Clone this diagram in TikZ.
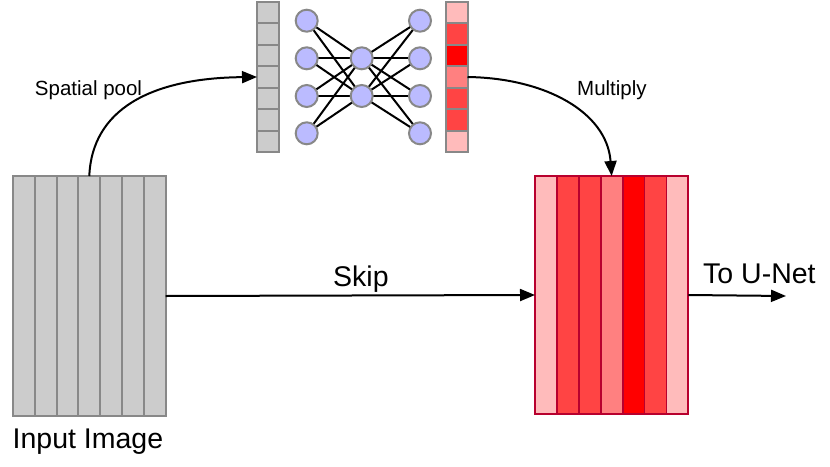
\documentclass[tikz,border=0pt]{standalone}
\usepackage{fontspec}
\setmainfont{Liberation Sans}
\usetikzlibrary{arrows.meta}
\definecolor{gfill}{HTML}{CCCCCC}
\definecolor{gline}{HTML}{888888}
\definecolor{rline}{HTML}{B8002E}
\definecolor{rA}{HTML}{FFBBBB}
\definecolor{rB}{HTML}{FF4444}
\definecolor{rC}{HTML}{FF8080}
\definecolor{rD}{HTML}{FF0000}
\definecolor{nfill}{HTML}{BBBBFF}
\tikzset{
  gstrip/.style={draw=gline, fill=gfill, line width=2pt, minimum width=21.8pt, minimum height=240pt, inner sep=0pt, outer sep=0pt},
  rstrip/.style={draw=rline, line width=1.8pt, minimum width=21.9pt, minimum height=238pt, inner sep=0pt, outer sep=0pt},
  gcell/.style={draw=gline, fill=gfill, line width=2pt, minimum width=22pt, minimum height=21.43pt, inner sep=0pt, outer sep=0pt},
  rcell/.style={draw=gline, line width=2pt, minimum width=22pt, minimum height=21.43pt, inner sep=0pt, outer sep=0pt},
  neuron/.style={circle, draw=gline, fill=nfill, line width=2pt, minimum size=22pt, inner sep=0pt},
  link/.style={line width=2pt, black},
  flow/.style={line width=2pt, -{Triangle[length=15pt,width=12pt]}},
  small/.style={font=\fontsize{20.5}{24}\selectfont, inner sep=0pt},
  big/.style={font=\fontsize{28.5}{32}\selectfont, inner sep=0pt},
}
\begin{document}
\begin{tikzpicture}[x=1pt, y=-1pt]
\useasboundingbox (0,0) rectangle (830,466);
% input image strips
\foreach \i in {0,...,6} {
  \node[gstrip] (in\i) at ({13+21.8*(\i+0.5)}, 296) {};
}
% output strips
\foreach \i/\c in {0/rA,1/rB,2/rB,3/rC,4/rD,5/rB,6/rA} {
  \node[rstrip, fill=\c] (out\i) at ({535+21.9*(\i+0.5)}, 295) {};
}
% pooled vector
\foreach \i in {0,...,6} {
  \node[gcell] (gv\i) at (268, {2+21.43*(\i+0.5)}) {};
}
% weight vector
\foreach \i/\c in {0/rA,1/rB,2/rD,3/rC,4/rB,5/rB,6/rA} {
  \node[rcell, fill=\c] (rv\i) at (456.5, {2+21.43*(\i+0.5)}) {};
}
% network nodes (named)
\foreach \i/\y in {0/20.7,1/58.3,2/96,3/133.3} {
  \coordinate (L\i) at (306.7, \y);
  \coordinate (R\i) at (420, \y);
}
\coordinate (M0) at (361.7, 58.3);
\coordinate (M1) at (361.7, 96);
\foreach \i in {0,...,3} {
  \foreach \j in {0,1} {
    \draw[link] (L\i) -- (M\j);
    \draw[link] (M\j) -- (R\i);
  }
}
\foreach \i in {0,...,3} {
  \node[neuron] (nl\i) at (L\i) {};
  \node[neuron] (nr\i) at (R\i) {};
}
\node[neuron] (nm0) at (M0) {};
\node[neuron] (nm1) at (M1) {};
% connectors
\draw[flow] (in3.north) .. controls (92,110) and (150,78) .. (gv3.west);
\draw[flow] (rv3.east) .. controls (545,78) and (607,112) .. (out3.north);
\draw[flow] (in6.east) -- (out0.west);
\coordinate (unet) at (786, 296);
\draw[flow] (out6.east) -- (unet);
% labels
\node[small, anchor=base] (lsp) at (88.5, 95) {Spatial pool};
\node[small, anchor=base west] (lmu) at (577, 95) {Multiply};
\node[big, anchor=base west] (lsk) at (333, 286.7) {Skip};
\node[big, anchor=base west] (lun) at (703, 283.3) {To U-Net};
\node[big, anchor=base west] (lin) at (12.5, 448) {Input Image};
\end{tikzpicture}
\end{document}
